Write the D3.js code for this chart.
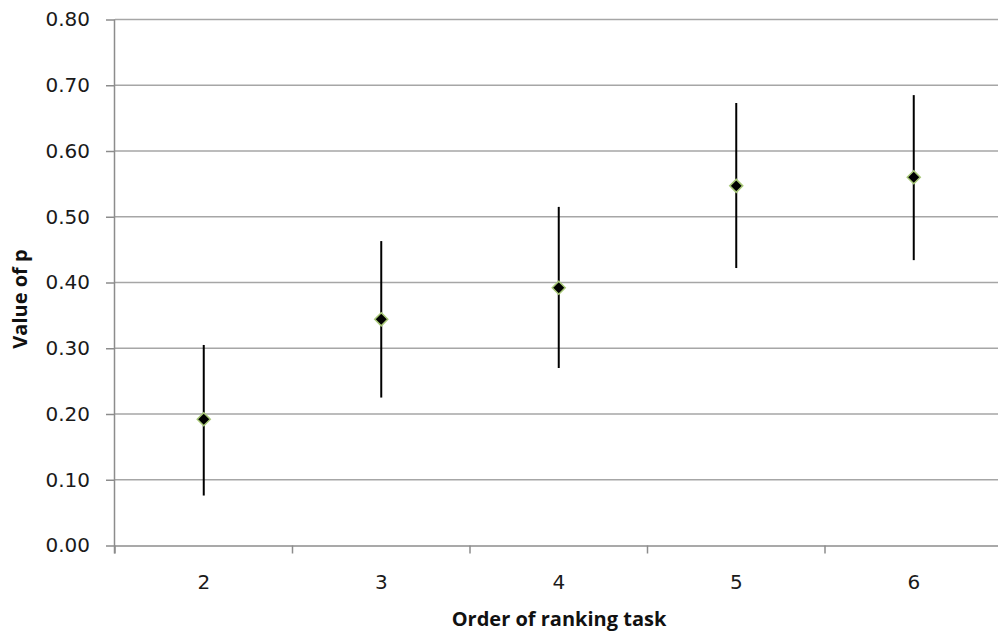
<!DOCTYPE html>
<html>
<head>
<meta charset="utf-8">
<script src="https://cdn.jsdelivr.net/npm/d3@7"></script>
<style>
  body { margin: 0; background: #fff; }
  svg { display: block; }
</style>
</head>
<body>
<script>
var width = 998;
var height = 635;

// data
var categories = ['2', '3', '4', '5', '6'];
var pValues = [0.192, 0.344, 0.392, 0.547, 0.560];
var upperValues = [0.305, 0.463, 0.515, 0.673, 0.685];
var lowerValues = [0.076, 0.225, 0.270, 0.422, 0.434];
var yTicks = [0, 0.1, 0.2, 0.3, 0.4, 0.5, 0.6, 0.7, 0.8];

var points = categories.map(function(c, i) {
  return { cat: c, p: pValues[i], hi: upperValues[i], lo: lowerValues[i] };
});

var margin = { left: 115, top: 19.5, bottom: 545.5 };

var x = d3.scaleBand()
  .domain(categories)
  .range([margin.left, 1002.5]);

var y = d3.scaleLinear()
  .domain([0, 0.8])
  .range([margin.bottom, margin.top]);

var svg = d3.select('body')
  .append('svg')
  .attr('width', width)
  .attr('height', height);

// gridlines
svg.append('g')
  .selectAll('line')
  .data(yTicks.slice(1))
  .enter()
  .append('line')
  .attr('x1', margin.left)
  .attr('x2', width)
  .attr('y1', function(d) { return y(d); })
  .attr('y2', function(d) { return y(d); })
  .attr('stroke', '#a6a6a6')
  .attr('stroke-width', 1.5);

// y axis
var yAxis = svg.append('g')
  .attr('transform', 'translate(' + margin.left + ',0)')
  .call(d3.axisLeft(y).tickValues(yTicks).tickFormat(d3.format('.2f')).tickSize(9).tickPadding(16));

// x axis
var xAxis = svg.append('g')
  .attr('transform', 'translate(0,' + margin.bottom + ')')
  .call(d3.axisBottom(x).tickSize(0).tickPadding(29));

// category boundary ticks
svg.append('g')
  .selectAll('line')
  .data(categories)
  .enter()
  .append('line')
  .attr('x1', function(d) { return x(d); })
  .attr('x2', function(d) { return x(d); })
  .attr('y1', margin.bottom)
  .attr('y2', margin.bottom + 8)
  .attr('stroke', '#8c8c8c')
  .attr('stroke-width', 1.5);

[yAxis, xAxis].forEach(function(a) {
  a.select('.domain').attr('stroke', '#8c8c8c').attr('stroke-width', 1.5);
  a.selectAll('.tick line').attr('stroke', '#8c8c8c').attr('stroke-width', 1.5);
  a.selectAll('.tick text')
    .attr('fill', '#1a1a1a')
    .style('font-family', 'DejaVu Sans, Verdana, sans-serif')
    .style('font-size', '20px');
});
xAxis.select('.domain').attr('d', 'M' + margin.left + ',0.5H' + width);
yAxis.select('.domain').attr('d', 'M-0.5,' + (margin.bottom + 8) + 'V' + margin.top);

// error bars
svg.append('g')
  .selectAll('line')
  .data(points)
  .enter()
  .append('line')
  .attr('x1', function(d) { return x(d.cat) + x.bandwidth() / 2; })
  .attr('x2', function(d) { return x(d.cat) + x.bandwidth() / 2; })
  .attr('y1', function(d) { return y(d.hi); })
  .attr('y2', function(d) { return y(d.lo); })
  .attr('stroke', '#000')
  .attr('stroke-width', 2);

// diamond markers
svg.append('g')
  .selectAll('path')
  .data(points)
  .enter()
  .append('path')
  .attr('d', 'M0,-6.5L6.5,0L0,6.5L-6.5,0Z')
  .attr('transform', function(d) {
    return 'translate(' + (x(d.cat) + x.bandwidth() / 2) + ',' + y(d.p) + ')';
  })
  .attr('fill', '#000')
  .attr('stroke', '#a8c878')
  .attr('stroke-width', 1.5);

// axis titles
svg.append('text')
  .attr('x', 559)
  .attr('y', 626)
  .attr('text-anchor', 'middle')
  .style('font-family', 'Open Sans, sans-serif')
  .style('font-weight', 'bold')
  .style('font-size', '20px')
  .attr('fill', '#111')
  .text('Order of ranking task');

svg.append('text')
  .attr('transform', 'translate(27,299) rotate(-90)')
  .attr('text-anchor', 'middle')
  .style('font-family', 'Open Sans, sans-serif')
  .style('font-weight', 'bold')
  .style('font-size', '20px')
  .attr('fill', '#111')
  .text('Value of p');
</script>
</body>
</html>
